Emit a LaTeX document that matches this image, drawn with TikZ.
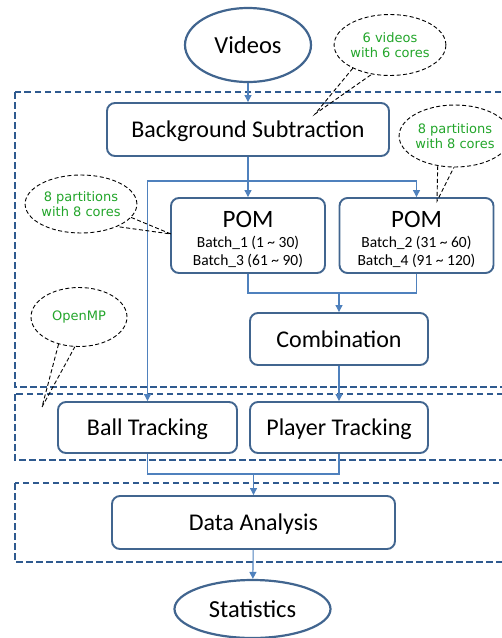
\documentclass[tikz,border=0pt]{standalone}
\usepackage{fontspec}
\setmainfont{Carlito}
\newfontfamily\notefont{DejaVu Sans}
\usetikzlibrary{shapes.geometric,arrows.meta}
\definecolor{boxblue}{HTML}{41658F}
\definecolor{linkblue}{HTML}{4F81BD}
\definecolor{framblue}{HTML}{2F5A8F}
\definecolor{notegreen}{HTML}{22A52A}
\tikzset{
  stage/.style={draw=boxblue, line width=1.9pt, rounded corners=8pt, inner sep=0pt,
    font=\fontsize{24}{26}\selectfont, text height=16pt, text depth=0pt},
  pom/.style={draw=boxblue, line width=1.9pt, rounded corners=8pt, inner sep=0pt,
    align=center, font=\fontsize{15.5}{18}\selectfont},
  terminal/.style={draw=boxblue, line width=2.2pt, ellipse, inner sep=0pt,
    font=\fontsize{24.5}{26}\selectfont, text height=16pt, text depth=0pt},
  link/.style={draw=linkblue, line width=1.1pt},
  conn/.style={link, -{Triangle[length=7pt,width=7pt]}},
  frame/.style={draw=framblue, line width=2pt, dash pattern=on 6.5pt off 3.5pt},
  note/.style={draw=black, line width=0.9pt, dash pattern=on 4pt off 2.5pt, ellipse,
    inner sep=0pt, align=center, text=notegreen,
    font=\notefont\fontsize{13}{15.5}\selectfont},
  tail/.style={draw=black, line width=0.9pt, dash pattern=on 4pt off 2.5pt},
}
\begin{document}
\begin{tikzpicture}[x=1pt,y=-1pt]
\clip (0,0) rectangle (502,638);

% stage groups
\draw[frame] (15,92) rectangle (508,387);
\draw[frame] (15,394) rectangle (508,460);
\draw[frame] (15,483) rectangle (508,562);

% processing stages
\node[terminal, minimum width=126pt, minimum height=74pt] (videos) at (248,45) {Videos};
\node[stage, minimum width=282pt, minimum height=53pt] (bgsub) at (248,129.5) {Background Subtraction};
\node[pom, minimum width=154pt, minimum height=75pt] (pom1) at (248,235.5)
  {{\fontsize{25}{26}\selectfont\rule{0pt}{24pt}POM}\\[2pt]
   Batch\_1 (1 \textasciitilde{} 30)\\
   Batch\_3 (61 \textasciitilde{} 90)};
\node[pom, minimum width=154pt, minimum height=75pt] (pom2) at (416.5,235.5)
  {{\fontsize{25}{26}\selectfont\rule{0pt}{24pt}POM}\\[2pt]
   Batch\_2 (31 \textasciitilde{} 60)\\
   Batch\_4 (91 \textasciitilde{} 120)};
\node[stage, minimum width=178pt, minimum height=52pt] (comb) at (339,339) {Combination};
\node[stage, minimum width=179pt, minimum height=51pt] (ball) at (147.5,427.5) {Ball Tracking};
\node[stage, minimum width=178pt, minimum height=51pt] (player) at (339,427.5) {Player Tracking};
\node[stage, minimum width=283pt, minimum height=53pt] (data) at (253.5,522.5) {Data Analysis};
\node[terminal, minimum width=156pt, minimum height=58pt] (stats) at (252.5,609) {Statistics};

% data flow
\coordinate (split) at (248,181);
\coordinate (join) at (339,293);
\coordinate (join2) at (253.5,474);
\draw[conn] (videos) -- (bgsub);
\draw[conn] (bgsub) -- (pom1);
\draw[conn] (split) -| (pom2.north);
\draw[conn] (split) -| (ball.north);
\draw[link] (pom1.south) |- (join) -| (pom2.south);
\draw[conn] (join) -- (comb);
\draw[conn] (comb) -- (player);
\draw[link] (ball.south) |- (join2) -| (player.south);
\draw[conn] (join2) -- (data);
\draw[conn] (data) -- (stats);

% annotations
\node[note, minimum width=96pt, minimum height=61pt] (n1) at (390,45) {6 videos\\with 6 cores};
\coordinate (n1tip) at (315,114);
\draw[tail] (n1.212) -- (n1tip) -- (n1.238);

\node[note, minimum width=96pt, minimum height=62pt] (n2) at (455,136) {8 partitions\\with 8 cores};
\coordinate (n2tip) at (437,201);
\draw[tail] (n2.240) -- (n2tip) -- (n2.268);

\node[note, minimum width=96pt, minimum height=58pt] (n3) at (81,204) {8 partitions\\with 8 cores};
\coordinate (n3tip) at (171,234);
\draw[tail] (n3.345) -- (n3tip) -- (n3.328);

\node[note, minimum width=96pt, minimum height=59pt] (n4) at (79,317) {OpenMP};
\coordinate (n4tip) at (42,407);
\draw[tail] (n4.233) -- (n4tip) -- (n4.262);
\end{tikzpicture}
\end{document}
